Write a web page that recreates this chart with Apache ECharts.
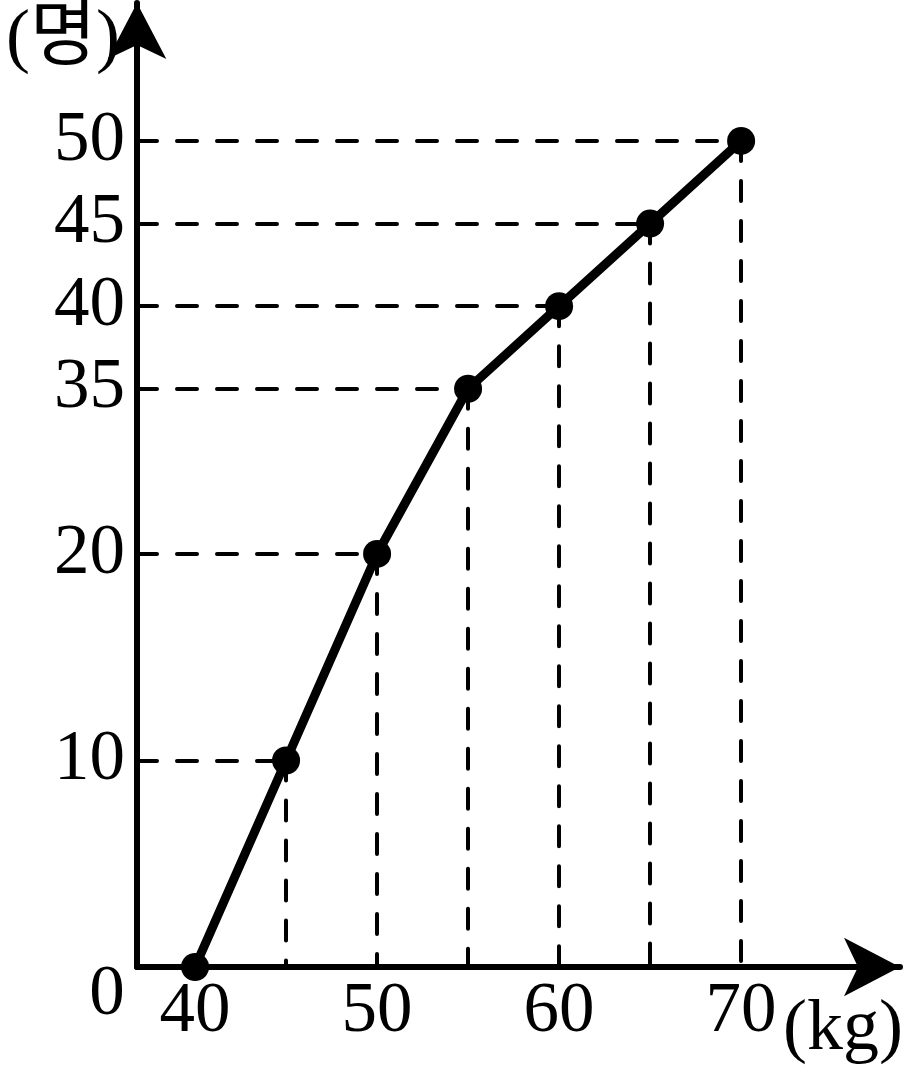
<!DOCTYPE html>
<html><head><meta charset="utf-8">
<script src="https://cdn.jsdelivr.net/npm/echarts@6/dist/echarts.min.js"></script>
<style>html,body{margin:0;padding:0;background:#fff}#c{width:909px;height:1078px}</style>
</head><body><div id="c"></div>
<script>
// ---- data ----
const weights = [40, 45, 50, 55, 60, 65, 70];
const cumulativeCounts = [0, 10, 20, 35, 40, 45, 50];
const xTickLabels = [40, 50, 60, 70];
const yTickLabels = [10, 20, 35, 40, 45, 50];
const xAxisTitle = '(kg)';
const yAxisTitle = '(명)';
const originLabel = '0';

// Drawing uses a piecewise-linear vertical scale (0–20, 20–35, 35–50 have different spacing)
const yKnotValues = [0, 20, 35, 50];
const yKnotPositions = [0, 20, 28, 40];
function interp(v, xs, ys) {
  for (let i = 0; i < xs.length - 1; i++) {
    if (v <= xs[i + 1] || i === xs.length - 2) {
      return ys[i] + (v - xs[i]) * (ys[i + 1] - ys[i]) / (xs[i + 1] - xs[i]);
    }
  }
}
const yScale = v => interp(v, yKnotValues, yKnotPositions);
const yInverse = p => interp(p, yKnotPositions, yKnotValues);

const X_MIN = 36.81, X_MAX = 78.73, Y_MAX = 46.68;
const FONT = '"Liberation Serif", "Times New Roman", serif';
const FS = 71;

const points = weights.map((w, i) => [w, yScale(cumulativeCounts[i])]);
const guideLines = [];
points.forEach((p, i) => {
  if (i === 0) return;
  guideLines.push([{ coord: [X_MIN, p[1]] }, { coord: [p[0], p[1]] }]);
  guideLines.push([{ coord: [p[0], p[1]] }, { coord: [p[0], 0] }]);
});

const chart = echarts.init(document.getElementById('c'), null, { renderer: 'canvas' });
chart.setOption({
  animation: false,
  backgroundColor: '#fff',
  grid: { left: 137, right: 9, top: 3, bottom: 111, containLabel: false },
  xAxis: {
    type: 'value', min: X_MIN, max: X_MAX,
    axisLine: { show: true, onZero: false, symbol: ['none', 'arrow'], symbolSize: [44, 56],
      lineStyle: { color: '#000', width: 6 } },
    axisTick: { show: false }, splitLine: { show: false },
    axisLabel: { customValues: xTickLabels, margin: 10, color: '#000', fontFamily: FONT, fontSize: FS,
      formatter: v => String(v) }
  },
  yAxis: {
    type: 'value', min: 0, max: Y_MAX,
    axisLine: { show: true, onZero: false, symbol: ['none', 'arrow'], symbolSize: [44, 56],
      lineStyle: { color: '#000', width: 6 } },
    axisTick: { show: false }, splitLine: { show: false },
    axisLabel: { customValues: yTickLabels.map(yScale), margin: 12, color: '#000', fontFamily: FONT, fontSize: FS,
      formatter: v => String(Math.round(yInverse(v))) }
  },
  graphic: [
    { type: 'text', x: 107, y: 995, silent: true,
      style: { text: originLabel, align: 'center', verticalAlign: 'middle', fill: '#000',
        font: FS + 'px ' + FONT } },
    { type: 'text', x: 843, y: 1030, silent: true,
      style: { text: xAxisTitle, align: 'center', verticalAlign: 'middle', fill: '#000',
        font: '72px ' + FONT } },
    { type: 'text', x: 63, y: 40, silent: true,
      style: { text: yAxisTitle, align: 'center', verticalAlign: 'middle', fill: '#000',
        font: '72px ' + FONT + ', "Noto Sans CJK KR"' } }
  ],
  series: [
    {
      type: 'line', data: [], z: 1, silent: true,
      markLine: {
        silent: true, symbol: 'none', z: 1, animation: false,
        label: { show: false },
        lineStyle: { color: '#000', width: 4, type: [20, 20], cap: 'round' },
        emphasis: { disabled: true },
        data: guideLines
      }
    },
    {
      type: 'line', data: points, z: 10,
      symbol: 'circle', symbolSize: 28, showSymbol: true,
      lineStyle: { color: '#000', width: 9 },
      itemStyle: { color: '#000' }
    }
  ]
});
</script></body></html>
